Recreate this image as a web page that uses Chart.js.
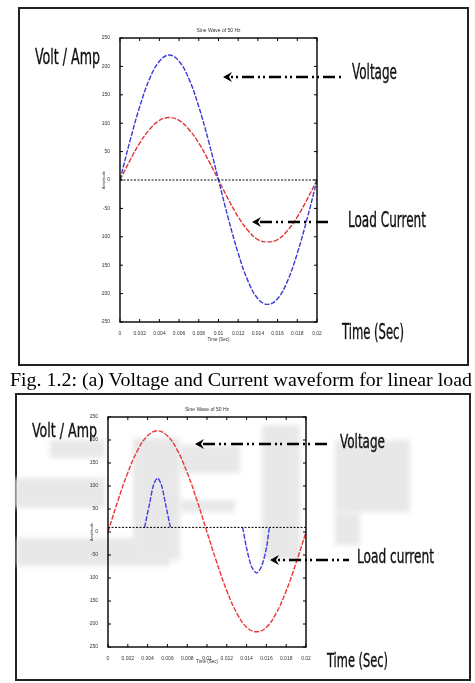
<!DOCTYPE html>
<html>
<head>
<meta charset="utf-8">
<script src="https://cdn.jsdelivr.net/npm/chart.js@4"></script>
<style>
  html, body { margin: 0; padding: 0; background: #fff; }
  body { width: 475px; height: 683px; position: relative; overflow: hidden; }
  .box { position: absolute; border: 2px solid #222; box-sizing: border-box; }
  .wm { position: absolute; background: #e8e8e8; filter: blur(2.5px); }
  canvas { position: absolute; }
  svg { position: absolute; left: 0; top: 0; }
  .ann { font-family: "Liberation Sans Narrow", "DejaVu Sans Condensed", sans-serif; fill: #111; stroke: #111; stroke-width: 0.35; }
  .cap { font-family: "Liberation Serif", "DejaVu Serif", serif; fill: #000; }
</style>
</head>
<body>
<div class="box" style="left:18px;top:7px;width:451px;height:359px"></div>
<div class="box" style="left:15px;top:393px;width:456px;height:288px"></div>

<!-- watermark in the lower figure -->
<div class="wm" style="left:50px;top:440px;width:55px;height:18px"></div>
<div class="wm" style="left:15px;top:478px;width:90px;height:30px"></div>
<div class="wm" style="left:17px;top:538px;width:153px;height:28px"></div>
<div class="wm" style="left:133px;top:438px;width:47px;height:122px"></div>
<div class="wm" style="left:180px;top:445px;width:60px;height:28px"></div>
<div class="wm" style="left:180px;top:500px;width:55px;height:12px"></div>
<div class="wm" style="left:262px;top:425px;width:38px;height:135px"></div>
<div class="wm" style="left:335px;top:440px;width:75px;height:72px"></div>
<div class="wm" style="left:335px;top:512px;width:25px;height:33px"></div>

<canvas id="chart-a" width="446" height="354" style="left:20px;top:9px"></canvas>
<canvas id="chart-b" width="451" height="283" style="left:17px;top:395px"></canvas>

<svg width="475" height="683" viewBox="0 0 475 683">
  <!-- upper figure -->
  <text class="ann" x="35" y="64" font-size="21" textLength="65" lengthAdjust="spacingAndGlyphs">Volt / Amp</text>
  <text class="ann" x="352" y="79" font-size="21" textLength="45" lengthAdjust="spacingAndGlyphs">Voltage</text>
  <text class="ann" x="348" y="227" font-size="21" textLength="78" lengthAdjust="spacingAndGlyphs">Load Current</text>
  <text class="ann" x="342" y="339" font-size="21" textLength="62" lengthAdjust="spacingAndGlyphs">Time (Sec)</text>
  <path d="M223 77 L232 72 L229 77 L232 82 Z" fill="#000"/>
  <line x1="231" y1="77" x2="343" y2="77" stroke="#000" stroke-width="2.6" stroke-dasharray="2 3 2 4 12 4"/>
  <path d="M252 222 L261 217 L258 222 L261 227 Z" fill="#000"/>
  <line x1="260" y1="222" x2="330" y2="222" stroke="#000" stroke-width="2.6" stroke-dasharray="12 4 2 3 2 5"/>

  <!-- caption -->
  <text class="cap" x="10" y="386" font-size="18" textLength="462" lengthAdjust="spacingAndGlyphs">Fig. 1.2: (a) Voltage and Current waveform for linear load</text>

  <!-- lower figure -->
  <text class="ann" x="32" y="437" font-size="19" textLength="65" lengthAdjust="spacingAndGlyphs">Volt / Amp</text>
  <text class="ann" x="340" y="448" font-size="19" textLength="45" lengthAdjust="spacingAndGlyphs">Voltage</text>
  <text class="ann" x="357" y="563" font-size="19" textLength="77" lengthAdjust="spacingAndGlyphs">Load current</text>
  <text class="ann" x="327" y="667" font-size="19" textLength="61" lengthAdjust="spacingAndGlyphs">Time (Sec)</text>
  <path d="M195 444 L204 439 L201 444 L204 449 Z" fill="#000"/>
  <line x1="203" y1="444" x2="329" y2="444" stroke="#000" stroke-width="2.6" stroke-dasharray="12 4 2 3 2 5"/>
  <path d="M270 560 L279 555 L276 560 L279 565 Z" fill="#000"/>
  <line x1="278" y1="560" x2="349" y2="560" stroke="#000" stroke-width="2.6" stroke-dasharray="2 3 2 4 12 4"/>
</svg>

<script>
// time axis, one sample every 1 ms over one 50 Hz cycle
const timeSec = [0, 0.001, 0.002, 0.003, 0.004, 0.005, 0.006, 0.007, 0.008, 0.009, 0.01,
    0.011, 0.012, 0.013, 0.014, 0.015, 0.016, 0.017, 0.018, 0.019, 0.02]

// (a) linear load
const voltageA = [0, 68, 129, 178, 209, 220, 209, 178, 129, 68, 0,
    -68, -129, -178, -209, -219, -209, -178, -129, -68, 0]
const currentA = [0, 34, 65, 89, 105, 110, 105, 89, 65, 34, 0,
    -34, -65, -89, -105, -109, -105, -89, -65, -34, 0]

// (b) non linear load
const voltageB = [0, 68, 129, 178, 209, 220, 209, 178, 129, 68, 0,
    -67, -128, -176, -207, -217, -207, -176, -128, -67, 0]
const pulseUpTime = [0.0037, 0.0042, 0.0046, 0.005, 0.0054, 0.0058, 0.0063]
const pulseUpCurrent = [10, 62, 102, 117, 102, 62, 10]
const pulseDownTime = [0.0136, 0.014, 0.0145, 0.015, 0.0155, 0.016, 0.0163]
const pulseDownCurrent = [10, -35, -75, -89, -75, -35, 10]

const baseTime = [0, 0.02]
const baseA = [0, 0]
const baseB = [10, 10]

const yTicks = [250, 200, 150, 100, 50, 0, -50, -100, -150, -200, -250]
const chartTitle = 'Sine Wave of 50 Hz'

const tickFont = { family: 'Liberation Sans', size: 5 }

function pts(xs, ys) {
    return xs.map((x, i) => ({ x, y: ys[i] }))
}

function wave(xs, ys, color, tension) {
    return {
        data: pts(xs, ys),
        borderColor: color,
        borderWidth: 1.4,
        borderDash: [5, 1.5],
        pointRadius: 0,
        tension: tension,
        fill: false
    }
}

function baseline(ys) {
    return {
        data: pts(baseTime, ys),
        borderColor: '#000',
        borderWidth: 1,
        borderDash: [2, 1.5],
        pointRadius: 0,
        fill: false
    }
}

// frame, inward ticks and the tiny title, like the MATLAB figure
const framePlugin = {
    id: 'frame',
    afterDraw(chart) {
        const { ctx, chartArea: a, scales: { x, y } } = chart
        ctx.save()
        ctx.strokeStyle = '#000'
        ctx.lineWidth = 1.4
        ctx.strokeRect(a.left, a.top, a.right - a.left, a.bottom - a.top)
        ctx.lineWidth = 1
        ctx.beginPath()
        x.ticks.forEach(t => {
            const px = x.getPixelForValue(t.value)
            ctx.moveTo(px, a.bottom); ctx.lineTo(px, a.bottom - 3)
            ctx.moveTo(px, a.top); ctx.lineTo(px, a.top + 3)
        })
        y.ticks.forEach(t => {
            const py = y.getPixelForValue(t.value)
            ctx.moveTo(a.left, py); ctx.lineTo(a.left + 3, py)
            ctx.moveTo(a.right, py); ctx.lineTo(a.right - 3, py)
        })
        ctx.stroke()
        ctx.fillStyle = '#333'
        ctx.font = '5px "Liberation Sans"'
        ctx.textAlign = 'center'
        ctx.fillText(chartTitle, (a.left + a.right) / 2, a.top - 6)
        ctx.restore()
    }
}

function makeChart(canvas, datasets, pad, yWidth, xHeight) {
    return new Chart(canvas, {
        type: 'line',
        data: { datasets },
        options: {
            responsive: false,
            devicePixelRatio: 1,
            animation: false,
            layout: { padding: pad },
            plugins: { legend: { display: false }, tooltip: { enabled: false } },
            scales: {
                x: {
                    type: 'linear',
                    min: 0,
                    max: 0.02,
                    afterBuildTicks: s => { s.ticks = timeSec.filter((t, i) => i % 2 === 0).map(v => ({ value: v })) },
                    afterFit: s => { s.height = xHeight },
                    grid: { display: false },
                    border: { display: false },
                    ticks: {
                        font: tickFont, color: '#333', padding: 1, maxRotation: 0, autoSkip: false,
                        callback: v => String(Number(v.toFixed(3)))
                    },
                    title: { display: true, text: 'Time (Sec)', font: { family: 'Liberation Sans', size: 4.5 }, color: '#333', padding: 0 }
                },
                y: {
                    min: -250,
                    max: 250,
                    afterBuildTicks: s => { s.ticks = yTicks.map(v => ({ value: v })) },
                    afterFit: s => { s.width = yWidth },
                    grid: { display: false },
                    border: { display: false },
                    ticks: { font: tickFont, color: '#333', padding: 2, autoSkip: false },
                    title: { display: true, text: 'Amplitude', font: { family: 'Liberation Sans', size: 4 }, color: '#333', padding: 0 }
                }
            }
        },
        plugins: [framePlugin]
    })
}

makeChart(document.getElementById('chart-a'), [
    baseline(baseA),
    wave(timeSec, voltageA, '#3a3ad8', 0.4),
    wave(timeSec, currentA, '#e03838', 0.4)
], { left: 81, right: 149, top: 29, bottom: 21 }, 19, 20)

makeChart(document.getElementById('chart-b'), [
    baseline(baseB),
    wave(timeSec, voltageB, '#e83a3a', 0.4),
    wave(pulseUpTime, pulseUpCurrent, '#4040dd', 0.3),
    wave(pulseDownTime, pulseDownCurrent, '#4040dd', 0.3)
], { left: 72, right: 162, top: 22, bottom: 14 }, 19, 17)
</script>
</body>
</html>
